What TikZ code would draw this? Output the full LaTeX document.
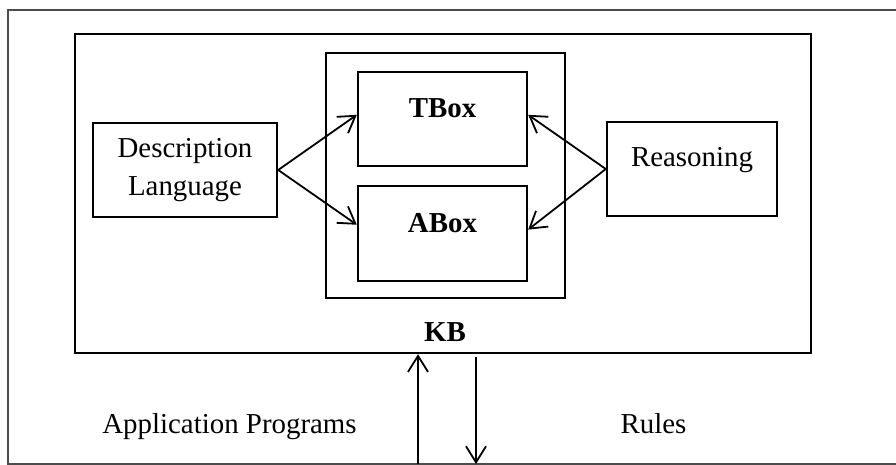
\documentclass[tikz,border=0pt]{standalone}
\usepackage{fontspec}
\setmainfont{Liberation Serif}
\usetikzlibrary{arrows.meta,calc}
\begin{document}
\begin{tikzpicture}[x=1bp,y=-1bp,
  box/.style={draw,line width=2.4bp,rectangle,inner sep=0pt},
  txt/.style={font=\fontsize{29}{38}\selectfont},
  btxt/.style={font=\fontsize{29}{38}\selectfont\bfseries},
  conn/.style={line width=1.8bp,-{Straight Barb[length=16bp,width=20bp,line width=1.8bp]}}]
\useasboundingbox (0,0) rectangle (896,465);
\draw[line width=2.2bp, draw=black!70] (896,10) -- (8,10) -- (8,464) -- (896,464);
\node[box, minimum width=736bp, minimum height=319bp] (kb) at (443,193.5) {};
\node[box, minimum width=239bp, minimum height=245bp] (inner) at (445.5,175.5) {};
\node[box, btxt, minimum width=169bp, text height=46bp, text depth=48bp] (tbox) at (442.5,119) {TBox};
\node[box, btxt, minimum width=169bp, text height=47bp, text depth=48bp] (abox) at (442.5,233.5) {ABox};
\node[box, txt, minimum width=184bp, minimum height=94bp, align=center] (dl) at (185,170) {Description\\Language};
\node[box, txt, minimum width=170bp, text height=45bp, text depth=49bp] (rs) at (692,169) {Reasoning};
\node[btxt, anchor=base] (kbl) at (445,342) {KB};
\node[txt, anchor=base] (app) at (229.5,433) {Application Programs};
\node[txt, anchor=base] (rules) at (653.5,433) {Rules};
\draw[conn] (dl.east) -- ($(tbox.north west)!0.457!(tbox.south west)$);
\draw[conn] (dl.east) -- ($(abox.north west)!0.41!(abox.south west)$);
\draw[conn] (rs.west) -- ($(tbox.north east)!0.457!(tbox.south east)$);
\draw[conn] (rs.west) -- ($(abox.north east)!0.46!(abox.south east)$);
\coordinate (upbot) at (418,464);
\coordinate (dntop) at (476,357);
\coordinate (dnbot) at (476,464);
\draw[conn] (upbot) -- (kb.south -| upbot);
\draw[conn] (dntop) -- (dnbot);
\end{tikzpicture}
\end{document}
